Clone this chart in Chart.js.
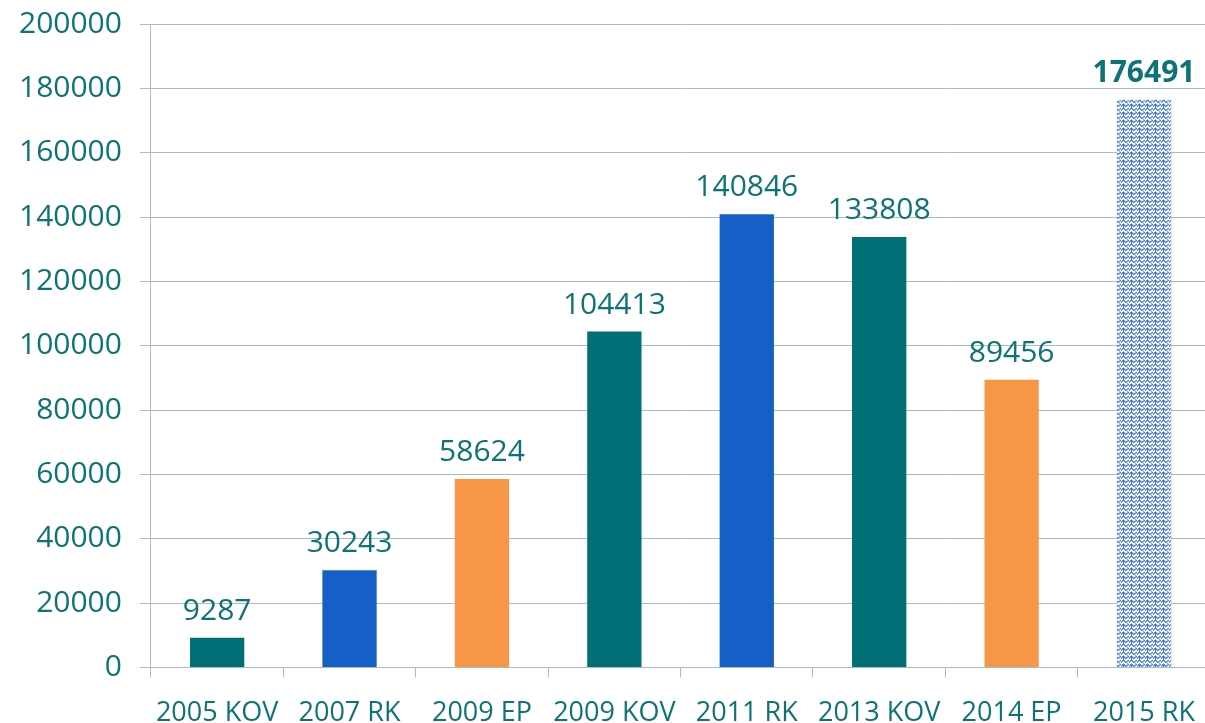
<!DOCTYPE html>
<html><head><meta charset="utf-8">
<script src="https://cdn.jsdelivr.net/npm/chart.js@4"></script>
<style>
html,body{margin:0;padding:0;background:#fff;overflow:hidden;}
#wrap{width:1214px;height:742px;position:relative;top:-12px;left:1px;}
</style></head>
<body><div id="wrap"><canvas id="c"></canvas></div>
<script>
const categories = ["2005 KOV","2007 RK","2009 EP","2009 KOV","2011 RK","2013 KOV","2014 EP","2015 RK"];
const values = [9287,30243,58624,104413,140846,133808,89456,176491];
const yTicks = [0,20000,40000,60000,80000,100000,120000,140000,160000,180000,200000];

const TEAL="#006F76", BLUE="#1560C6", ORANGE="#F79646", TEXT="#0E7377", GRID="#A9BCBF";

function makePattern(){
  const p=document.createElement('canvas'); p.width=8; p.height=8;
  const g=p.getContext('2d');
  g.fillStyle="#ffffff"; g.fillRect(0,0,8,8);
  g.strokeStyle="#3C74D8"; g.lineWidth=1.1;
  g.beginPath();
  g.moveTo(0,2.5); g.lineTo(2.5,0); g.lineTo(5,2.5); g.lineTo(8,0);
  g.moveTo(0,6.5); g.lineTo(2.5,4); g.lineTo(5,6.5); g.lineTo(8,4);
  g.moveTo(2.5,4); g.lineTo(2.5,8);
  g.stroke();
  g.fillStyle="#9BB8EC";
  g.fillRect(6,1,1,4);
  return document.getElementById('c').getContext('2d').createPattern(p,'repeat');
}
const colors=[TEAL,BLUE,ORANGE,TEAL,BLUE,TEAL,ORANGE,makePattern()];

const labelPlugin={
  id:'vals',
  afterDatasetsDraw(chart){
    const ctx=chart.ctx, meta=chart.getDatasetMeta(0);
    ctx.save(); ctx.fillStyle=TEXT; ctx.textAlign='center'; ctx.textBaseline='alphabetic';
    meta.data.forEach((bar,i)=>{
      const last=i===values.length-1;
      ctx.font=(last?'bold ':'')+'30px "Open Sans", sans-serif';
      ctx.fillText(String(values[i]), bar.x, bar.y-18);
    });
    ctx.restore();
  }
};

Chart.defaults.font.family='"Open Sans", sans-serif';
new Chart(document.getElementById('c'),{
  type:'bar',
  data:{labels:categories,datasets:[{data:values,backgroundColor:colors,borderWidth:0,categoryPercentage:0.82,barPercentage:0.5}]},
  options:{
    responsive:true,maintainAspectRatio:false,animation:false,
    layout:{padding:{top:0,left:0,right:0,bottom:-20}},
    plugins:{legend:{display:false},tooltip:{enabled:false}},
    scales:{
      x:{
        grid:{drawOnChartArea:false,drawTicks:true,tickLength:10,color:GRID,offset:true},
        border:{display:false},
        ticks:{color:TEXT,font:{size:27},padding:20,maxRotation:0,autoSkip:false}
      },
      y:{
        min:0,max:200000,
        afterBuildTicks(s){s.ticks=yTicks.map(v=>({value:v}));},
        grid:{color:GRID,tickLength:11,lineWidth:1},
        border:{display:true,color:GRID},
        ticks:{color:TEXT,font:{size:30},padding:18,callback:v=>String(v)}
      }
    }
  },
  plugins:[labelPlugin]
});
</script></body></html>
